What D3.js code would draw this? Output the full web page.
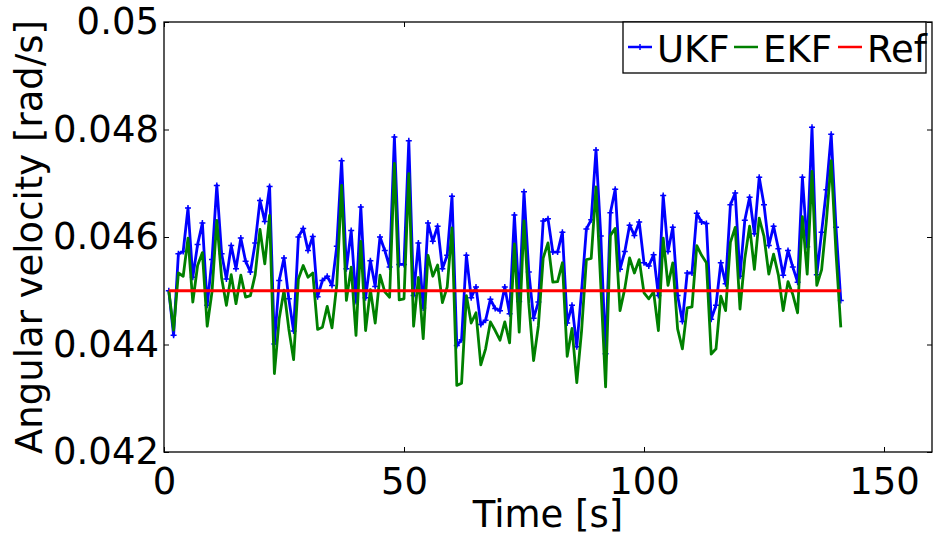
<!DOCTYPE html>
<html>
<head>
<meta charset="utf-8">
<script src="https://cdn.jsdelivr.net/npm/d3@7"></script>
<style>
  body { margin: 0; background: #fff; }
  svg { font-family: "DejaVu Sans", sans-serif; }
</style>
</head>
<body>
<div id="chart"></div>
<script>
// sample times [s]
const time = d3.range(1, 142);

// UKF estimate [rad/s]
const ukf = [
  0.04500, 0.04417, 0.04569, 0.04573, 0.04654, 0.04525, 0.04586, 0.04626, 0.04473, 0.04558,
  0.04696, 0.04569, 0.04522, 0.04584, 0.04541, 0.04598, 0.04555, 0.04535, 0.04589, 0.04668,
  0.04629, 0.04694, 0.04401, 0.04519, 0.04561, 0.04485, 0.04425, 0.04600, 0.04616, 0.04575,
  0.04601, 0.04489, 0.04519, 0.04527, 0.04510, 0.04583, 0.04742, 0.04541, 0.04612, 0.04480,
  0.04656, 0.04487, 0.04556, 0.04508, 0.04600, 0.04575, 0.04544, 0.04786, 0.04549, 0.04549,
  0.04779, 0.04491, 0.04589, 0.04468, 0.04626, 0.04592, 0.04620, 0.04541, 0.04566, 0.04676,
  0.04398, 0.04409, 0.04566, 0.04487, 0.04507, 0.04437, 0.04445, 0.04484, 0.04467, 0.04463,
  0.04507, 0.04457, 0.04641, 0.04480, 0.04684, 0.04535, 0.04449, 0.04479, 0.04630, 0.04634,
  0.04572, 0.04572, 0.04609, 0.04440, 0.04473, 0.04396, 0.04500, 0.04615, 0.04632, 0.04762,
  0.04602, 0.04383, 0.04645, 0.04689, 0.04540, 0.04573, 0.04622, 0.04603, 0.04628, 0.04552,
  0.04546, 0.04567, 0.04491, 0.04677, 0.04573, 0.04618, 0.04491, 0.04443, 0.04533, 0.04533,
  0.04644, 0.04628, 0.04625, 0.04447, 0.04473, 0.04552, 0.04513, 0.04660, 0.04682, 0.04527,
  0.04631, 0.04674, 0.04606, 0.04711, 0.04660, 0.04584, 0.04620, 0.04578, 0.04529, 0.04575,
  0.04544, 0.04516, 0.04711, 0.04582, 0.04804, 0.04530, 0.04609, 0.04688, 0.04791, 0.04618,
  0.04482
];

// EKF estimate [rad/s]
const ekf = [
  0.04500, 0.04427, 0.04533, 0.04527, 0.04598, 0.04479, 0.04547, 0.04571, 0.04434, 0.04498,
  0.04631, 0.04524, 0.04473, 0.04530, 0.04476, 0.04529, 0.04488, 0.04491, 0.04530, 0.04614,
  0.04550, 0.04640, 0.04346, 0.04448, 0.04501, 0.04429, 0.04372, 0.04522, 0.04547, 0.04525,
  0.04533, 0.04428, 0.04432, 0.04471, 0.04431, 0.04512, 0.04696, 0.04482, 0.04544, 0.04417,
  0.04592, 0.04426, 0.04502, 0.04440, 0.04529, 0.04498, 0.04488, 0.04737, 0.04483, 0.04485,
  0.04718, 0.04434, 0.04525, 0.04411, 0.04566, 0.04527, 0.04548, 0.04478, 0.04507, 0.04617,
  0.04324, 0.04328, 0.04491, 0.04440, 0.04459, 0.04362, 0.04392, 0.04442, 0.04426, 0.04408,
  0.04442, 0.04403, 0.04587, 0.04423, 0.04630, 0.04476, 0.04370, 0.04435, 0.04561, 0.04589,
  0.04516, 0.04517, 0.04552, 0.04378, 0.04430, 0.04329, 0.04426, 0.04558, 0.04560, 0.04693,
  0.04510, 0.04321, 0.04603, 0.04616, 0.04463, 0.04504, 0.04561, 0.04533, 0.04558, 0.04496,
  0.04485, 0.04498, 0.04426, 0.04598, 0.04510, 0.04552, 0.04429, 0.04392, 0.04468, 0.04470,
  0.04584, 0.04566, 0.04552, 0.04382, 0.04392, 0.04490, 0.04463, 0.04590, 0.04618, 0.04466,
  0.04560, 0.04620, 0.04540, 0.04635, 0.04601, 0.04531, 0.04568, 0.04529, 0.04463, 0.04517,
  0.04493, 0.04459, 0.04638, 0.04531, 0.04722, 0.04510, 0.04539, 0.04630, 0.04742, 0.04570,
  0.04432
];

// reference value [rad/s]
const refValue = 0.045;

const xTicks = [0, 50, 100, 150];
const yTicks = [0.042, 0.044, 0.046, 0.048, 0.05];
const yTickLabels = ["0.042", "0.044", "0.046", "0.048", "0.05"];
const seriesNames = ["UKF", "EKF", "Ref"];

// dimensions
const width = 936, height = 542;
const margin = { top: 22, right: 4, bottom: 90, left: 164 };
const fontSize = 37;

const svg = d3.select("#chart").append("svg")
  .attr("width", width)
  .attr("height", height);

const x = d3.scaleLinear().domain([0, 160]).range([margin.left, width - margin.right]);
const y = d3.scaleLinear().domain([0.042, 0.05]).range([height - margin.bottom, margin.top]);

// axes: inward ticks on all four sides
const tickLen = 5;
svg.append("g")
  .attr("transform", `translate(0,${y.range()[0]})`)
  .call(d3.axisBottom(x).tickValues(xTicks).tickSizeInner(-tickLen).tickSizeOuter(0).tickPadding(16).tickFormat(d3.format("d")))
  .call(g => g.select(".domain").remove())
  .call(g => g.selectAll("text").attr("font-size", fontSize).attr("fill", "#000").attr("font-family", "DejaVu Sans"));

svg.append("g")
  .attr("transform", `translate(0,${y.range()[1]})`)
  .call(d3.axisTop(x).tickValues(xTicks).tickSizeInner(-tickLen).tickSizeOuter(0).tickFormat(""))
  .call(g => g.select(".domain").remove());

svg.append("g")
  .attr("transform", `translate(${x.range()[0]},0)`)
  .call(d3.axisLeft(y).tickValues(yTicks).tickSizeInner(-tickLen).tickSizeOuter(0).tickPadding(5)
    .tickFormat((d, i) => yTickLabels[i]))
  .call(g => g.select(".domain").remove())
  .call(g => g.selectAll("text").attr("font-size", fontSize).attr("fill", "#000").attr("font-family", "DejaVu Sans"));

svg.append("g")
  .attr("transform", `translate(${x.range()[1]},0)`)
  .call(d3.axisRight(y).tickValues(yTicks).tickSizeInner(-tickLen).tickSizeOuter(0).tickFormat(""))
  .call(g => g.select(".domain").remove());

svg.selectAll(".tick line").attr("stroke", "#000").attr("stroke-width", 1);

// plot box
svg.append("rect")
  .attr("x", x.range()[0])
  .attr("y", y.range()[1])
  .attr("width", x.range()[1] - x.range()[0])
  .attr("height", y.range()[0] - y.range()[1])
  .attr("fill", "none")
  .attr("stroke", "#000")
  .attr("stroke-width", 1.3);

// lines
const line = d3.line().x(d => x(d[0])).y(d => y(d[1]));
const ukfPts = time.map((t, i) => [t, ukf[i]]);
const ekfPts = time.map((t, i) => [t, ekf[i]]);
const refPts = [[time[0], refValue], [time[time.length - 1], refValue]];

svg.append("path").datum(ukfPts)
  .attr("d", line).attr("fill", "none").attr("stroke", "#0000ff").attr("stroke-width", 2.8).attr("stroke-linejoin", "round");

// small "+" markers on UKF
svg.append("g").selectAll("path")
  .data(ukfPts)
  .join("path")
  .attr("d", d => `M${x(d[0]) - 3},${y(d[1])}h6M${x(d[0])},${y(d[1]) - 3}v6`)
  .attr("stroke", "#0000ff")
  .attr("stroke-width", 1.5);

svg.append("path").datum(ekfPts)
  .attr("d", line).attr("fill", "none").attr("stroke", "#008000").attr("stroke-width", 2.8).attr("stroke-linejoin", "round");

svg.append("path").datum(refPts)
  .attr("d", line).attr("fill", "none").attr("stroke", "#ff0000").attr("stroke-width", 2.8);

// axis titles
svg.append("text")
  .attr("x", (x.range()[0] + x.range()[1]) / 2)
  .attr("y", 527)
  .attr("text-anchor", "middle")
  .attr("font-size", fontSize)
  .text("Time [s]");

svg.append("text")
  .attr("transform", `translate(42,${(y.range()[0] + y.range()[1]) / 2}) rotate(-90)`)
  .attr("text-anchor", "middle")
  .attr("font-size", fontSize)
  .text("Angular velocity [rad/s]");

// legend
const legend = svg.append("g");
legend.append("rect")
  .attr("x", 623).attr("y", y.range()[1])
  .attr("width", 303).attr("height", 51)
  .attr("fill", "#fff").attr("stroke", "#000").attr("stroke-width", 1.3);

const legendColors = ["#0000ff", "#008000", "#ff0000"];
const legendX = [628, 734, 838];
seriesNames.forEach((name, i) => {
  const lx = legendX[i];
  legend.append("line")
    .attr("x1", lx).attr("x2", lx + 24)
    .attr("y1", 47).attr("y2", 47)
    .attr("stroke", legendColors[i]).attr("stroke-width", 2.5);
  if (i === 0) {
    legend.append("path")
      .attr("d", `M${lx + 9},47h6M${lx + 12},44v6`)
      .attr("stroke", legendColors[i]).attr("stroke-width", 1.5);
  }
  legend.append("text")
    .attr("x", lx + 29).attr("y", 62)
    .attr("font-size", fontSize)
    .text(name);
});
</script>
</body>
</html>
